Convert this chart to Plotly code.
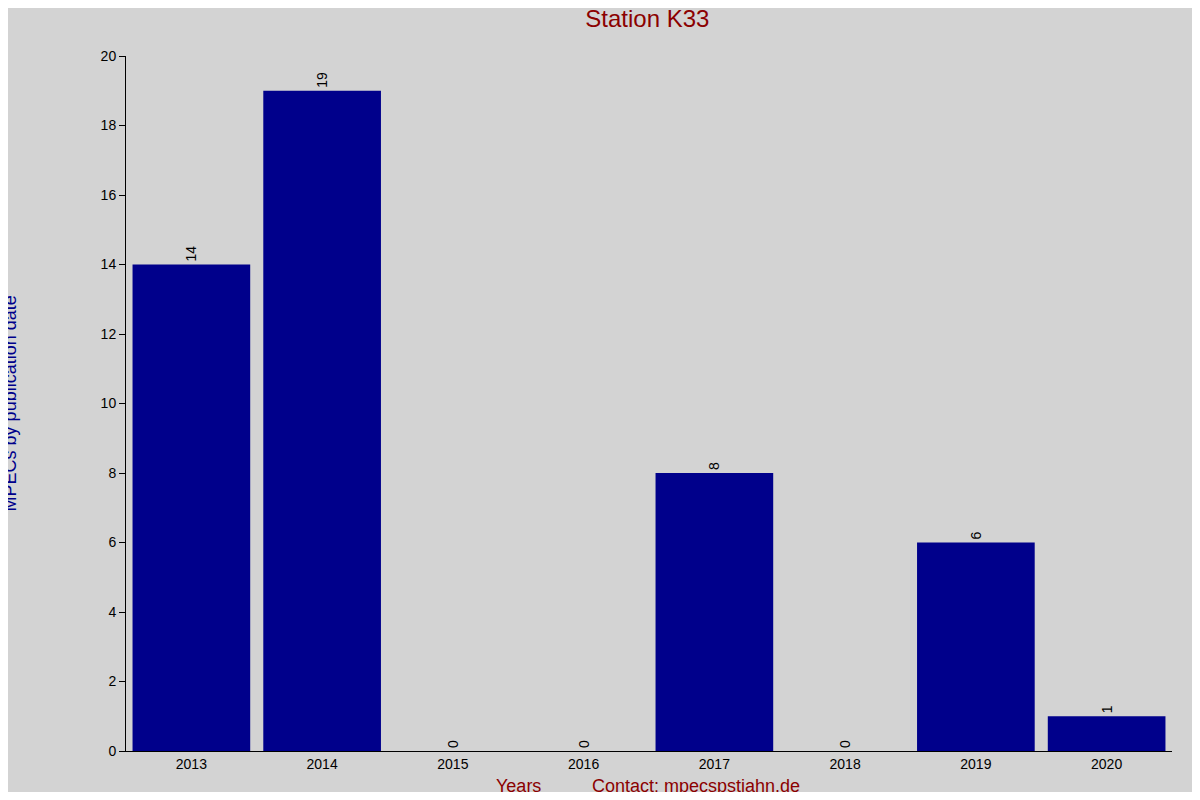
import plotly.graph_objects as go

years = ["2013","2014","2015","2016","2017","2018","2019","2020"]
counts = [14, 19, 0, 0, 8, 0, 6, 1]

fig = go.Figure(go.Bar(
    x=years, y=counts, marker_color="#00008B", marker_line_width=0,
    text=[str(c) for c in counts], textposition="outside", textangle=-90,
    textfont=dict(color="black", size=14), cliponaxis=False,
))
fig.update_layout(
    width=1184, height=784, paper_bgcolor="#D3D3D3", plot_bgcolor="#D3D3D3",
    margin=dict(l=118, r=20, t=48, b=41), bargap=0.1, showlegend=False,
    font=dict(family="Liberation Sans, Arial", color="black", size=14),
    title=dict(text="Station K33", x=0.54, xanchor="center", y=0.987, yanchor="middle",
               font=dict(size=24, color="#8B0000")),
    annotations=[
        dict(text="Years", xref="paper", yref="paper", x=0.375, y=-0.05, xanchor="center",
             yanchor="middle", showarrow=False, font=dict(size=18, color="#8B0000")),
        dict(text="Contact: mpecspstjahn.de", xref="paper", yref="paper", x=0.545, y=-0.05,
             xanchor="center", yanchor="middle", showarrow=False, font=dict(size=18, color="#8B0000")),
        dict(text="MPECs by publication date", xref="paper", yref="paper", x=-0.111, y=0.5,
             xanchor="center", yanchor="middle", textangle=-90, showarrow=False,
             font=dict(size=18, color="#00008B")),
    ],
)
fig.update_xaxes(showline=True, linecolor="black", ticks="", showgrid=False,
                 tickfont=dict(size=14))
fig.update_yaxes(range=[0, 20], dtick=2, showline=True, linecolor="black", ticks="outside",
                 ticklen=6, tickcolor="black", showgrid=False, zeroline=False,
                 tickfont=dict(size=14))
fig.write_html("out.html")
